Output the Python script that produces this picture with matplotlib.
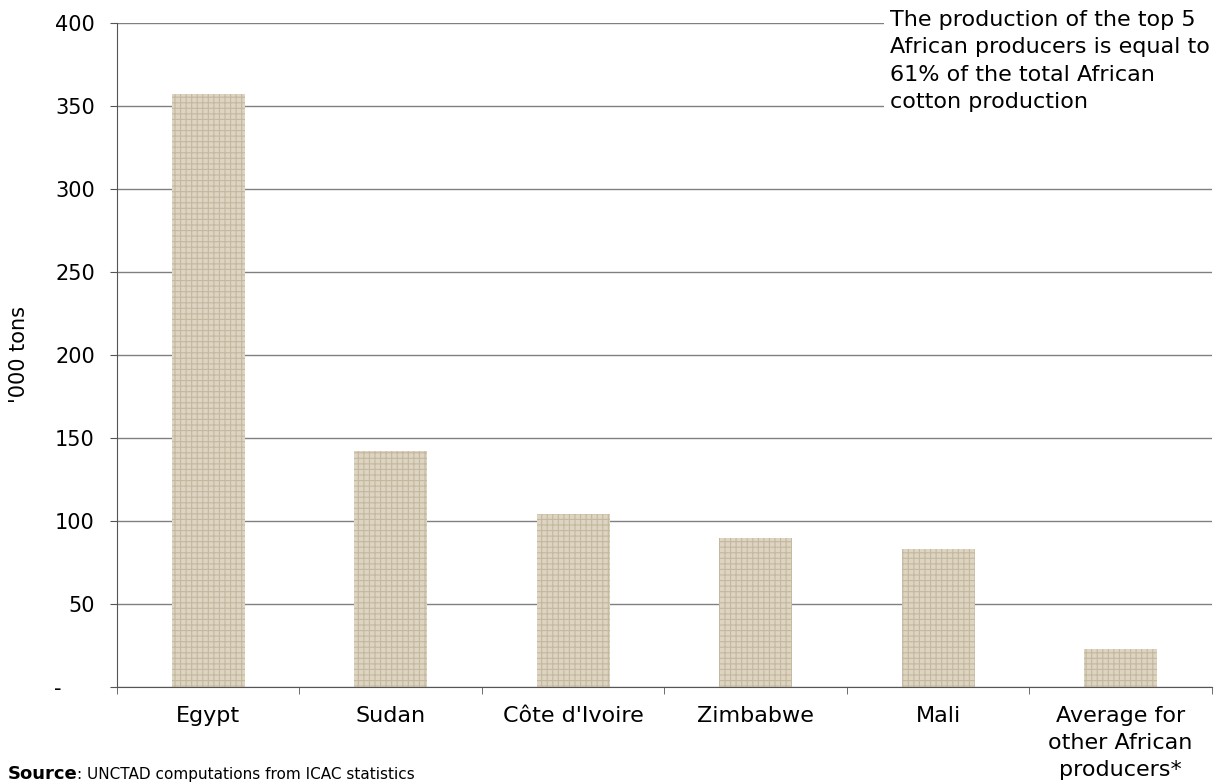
import matplotlib.pyplot as plt
import numpy as np

# data
countries = ['Egypt', 'Sudan', "Côte d'Ivoire", 'Zimbabwe', 'Mali',
             'Average for\nother African\nproducers*']
production = [357, 142, 104, 90, 83, 23]   # '000 tons
yticks = [0, 50, 100, 150, 200, 250, 300, 350, 400]
ytick_labels = ['-     ', '50', '100', '150', '200', '250', '300', '350', '400']

plt.rcParams['font.family'] = ['DejaVu Sans']
plt.rcParams['hatch.color'] = '#c4b89f'
plt.rcParams['hatch.linewidth'] = 0.8

fig = plt.figure(figsize=(12.24, 7.82), dpi=100)
ax = fig.add_axes([0.0956, 0.1215, 0.8944, 0.8491])

x = np.arange(len(countries))
ax.bar(x, production, width=0.4, color='#ddd4c2', hatch='+++',
       linewidth=0, zorder=2)

ax.set_xlim(-0.5, len(countries) - 0.5)
ax.set_ylim(0, 400)
ax.set_yticks(yticks)
ax.set_yticklabels(ytick_labels, fontsize=15)
ax.set_xticks(x)
ax.set_xticklabels(countries, fontsize=16, linespacing=1.41, va='top')
ax.tick_params(axis='x', which='major', length=0, pad=14)
ax.set_xticks(np.arange(-0.5, len(countries)), minor=True)
ax.tick_params(axis='x', which='minor', length=5, color='#555555')
ax.tick_params(axis='y', length=5, color='#555555', pad=11)

ax.yaxis.grid(True, color='#808080', linewidth=1, zorder=0)
ax.set_axisbelow(True)
for side in ['top', 'right']:
    ax.spines[side].set_visible(False)
for side in ['left', 'bottom']:
    ax.spines[side].set_color('#555555')

ax.set_ylabel("'000 tons", fontsize=15, labelpad=18)

fig.text(0.727, 0.987, 'The production of the top 5\nAfrican producers is equal to\n'
         '61% of the total African\ncotton production',
         fontsize=16, va='top', ha='left', linespacing=1.45,
         bbox=dict(facecolor='white', edgecolor='none', pad=4))

# source line: bold "Source" followed by regular text on the same baseline
src = fig.text(0.006, 0.004, 'Source', fontsize=13, fontweight='bold',
               va='baseline')
renderer = fig.canvas.get_renderer()
src_box = src.get_window_extent(renderer).transformed(fig.transFigure.inverted())
fig.text(src_box.x1, 0.004, ': UNCTAD computations from ICAC statistics',
         fontsize=11, va='baseline')

fig.savefig('out.png', dpi=100)
